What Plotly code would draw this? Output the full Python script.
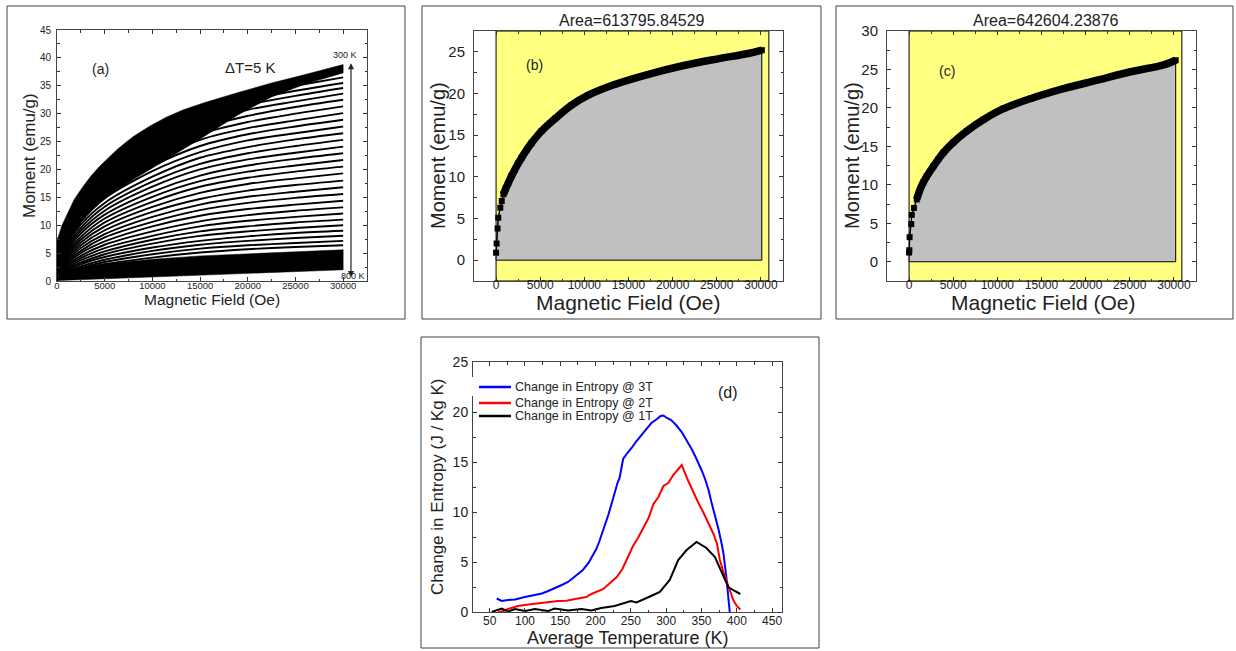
import plotly.graph_objects as go

W, H = 1236, 651
FONT = "Liberation Sans, Arial, sans-serif"
INK = "#222222"

# ---------------- Panel (a): M(H) isotherms 300 K ... 800 K ----------------
a_env_field = [0, 150, 500, 1000, 1800, 2750, 3600, 4500, 5400, 6250, 7100, 8000, 9750, 11500, 13250,
               15500, 19000, 22500, 26000, 30000]
a_env_upper = [7.5, 8.0, 9.9, 11.8, 14.6, 17.0, 18.9, 20.6, 22.1, 23.5, 24.7, 25.9, 27.8, 29.4, 30.7,
               32.0, 33.8, 35.5, 37.0, 38.8]
a_env_lfield = [0, 315, 800, 1364, 2000, 2760, 3600, 4510, 5400, 6260, 8000, 9755, 11500, 13250, 15500,
                19000, 22500, 26000, 30000]
a_env_lower = [0, 1.7, 5.0, 7.6, 9.6, 11.2, 12.8, 14.2, 15.3, 16.3, 18.2, 20.0, 21.8, 23.6, 26.0,
               29.8, 33.0, 35.3, 37.3]

a_curve_field = [300, 1000, 2500, 5000, 10000, 15000, 20000, 25000, 30000]
a_curves = [
    [1.5, 9.5, 15.0, 20.4, 26.6, 31.0, 33.4, 35.0, 36.5],
    [1.5, 9.2, 14.4, 19.8, 25.8, 30.1, 32.4, 34.1, 35.5],
    [1.5, 8.9, 14.0, 19.2, 25.1, 29.3, 31.6, 33.2, 34.6],
    [1.5, 8.5, 13.5, 18.5, 24.3, 28.4, 30.7, 32.2, 33.6],
    [1.4, 8.2, 12.9, 17.8, 23.4, 27.4, 29.6, 31.2, 32.5],
    [1.4, 7.8, 12.3, 17.0, 22.5, 26.3, 28.5, 30.0, 31.3],
    [1.4, 7.4, 11.8, 16.3, 21.5, 25.3, 27.4, 28.8, 30.1],
    [1.3, 7.0, 11.2, 15.5, 20.6, 24.2, 26.3, 27.7, 28.9],
    [1.3, 6.6, 10.6, 14.8, 19.7, 23.1, 25.2, 26.5, 27.7],
    [1.3, 6.3, 10.1, 14.0, 18.7, 22.1, 24.0, 25.4, 26.5],
    [1.2, 5.9, 9.5, 13.3, 17.8, 21.0, 22.9, 24.2, 25.3],
    [1.2, 5.6, 9.0, 12.6, 16.9, 20.0, 21.8, 23.0, 24.1],
    [1.2, 5.2, 8.5, 11.9, 16.0, 18.9, 20.7, 21.9, 22.9],
    [1.1, 4.9, 7.9, 11.2, 15.1, 17.9, 19.6, 20.7, 21.7],
    [1.1, 4.6, 7.4, 10.5, 14.2, 16.9, 18.5, 19.6, 20.5],
    [1.0, 4.2, 6.9, 9.8, 13.3, 15.8, 17.4, 18.4, 19.3],
    [1.0, 3.9, 6.4, 9.1, 12.4, 14.7, 16.2, 17.2, 18.0],
    [1.0, 3.6, 5.9, 8.4, 11.5, 13.7, 15.1, 16.0, 16.8],
    [0.9, 3.3, 5.4, 7.8, 10.6, 12.7, 14.0, 14.9, 15.6],
    [0.9, 3.0, 5.0, 7.1, 9.8, 11.7, 12.9, 13.7, 14.4],
    [0.9, 2.7, 4.5, 6.5, 8.9, 10.7, 11.8, 12.6, 13.2],
    [0.8, 2.5, 4.1, 5.9, 8.1, 9.8, 10.8, 11.5, 12.1],
    [0.8, 2.2, 3.7, 5.3, 7.4, 8.9, 9.8, 10.5, 11.0],
    [0.8, 2.0, 3.3, 4.8, 6.7, 8.1, 8.9, 9.5, 10.0],
    [0.7, 1.8, 3.0, 4.3, 6.0, 7.2, 8.0, 8.6, 9.0],
    [0.7, 1.6, 2.6, 3.8, 5.4, 6.5, 7.2, 7.7, 8.1],
    [0.6, 1.4, 2.3, 3.4, 4.8, 5.8, 6.4, 6.8, 7.2],
    [0.6, 1.2, 2.0, 3.0, 4.2, 5.1, 5.7, 6.1, 6.4],
]
a_bot_field = [0, 300, 1000, 2500, 5000, 7500, 10000, 15000, 20000, 25000, 30000]
a_bot_upper = [0.3, 1.1, 1.6, 2.4, 3.1, 3.5, 3.9, 4.5, 4.9, 5.3, 5.6]
a_bot_lower = [0.0, 0.1, 0.2, 0.3, 0.5, 0.65, 0.8, 1.1, 1.4, 1.7, 2.0]

# ---------------- Panel (b) ----------------
b_field = [0, 60, 170, 250, 480, 640, 830, 1100, 1400, 1750, 2150, 2500, 2900, 3500, 4050,
           5150, 6700, 8550, 10450, 13500, 17250, 21000, 24800, 28550, 30100]
b_moment = [0.9, 2.0, 3.8, 5.1, 6.3, 7.1, 7.9, 8.6, 9.3, 10.1, 10.9, 11.6, 12.3, 13.3, 14.1,
            15.5, 17.0, 18.6, 19.8, 21.1, 22.3, 23.3, 24.1, 24.8, 25.2]
b_title = "Area=613795.84529"

# ---------------- Panel (c) ----------------
c_field = [0, 30, 60, 250, 300, 550, 870, 1250, 1600, 2000, 2750, 3300, 3900, 5000, 6550,
           8450, 10700, 13750, 17500, 21300, 25100, 28850, 30200]
c_moment = [1.2, 1.5, 3.2, 4.9, 6.1, 7.0, 8.1, 9.4, 10.3, 11.1, 12.4, 13.3, 14.2, 15.5, 17.0,
            18.5, 19.9, 21.2, 22.5, 23.6, 24.7, 25.6, 26.2]
c_title = "Area=642604.23876"

# ---------------- Panel (d) ----------------
d_T_3T = [60, 67, 76, 86, 100, 112, 124, 133, 142, 152, 161, 168, 175, 182, 190, 196, 201, 205, 209,
          214, 218, 223, 227, 231, 234, 237, 239, 245, 251, 258, 265, 272, 279, 287, 292, 296, 301,
          307, 314, 322, 329, 336, 341, 345, 350, 355, 360, 364, 369, 374, 378, 381, 385, 388, 390]
d_S_3T = [1.35, 1.1, 1.2, 1.25, 1.5, 1.65, 1.85, 2.1, 2.35, 2.7, 3.0, 3.4, 3.75, 4.2, 4.9, 5.6, 6.3,
          7.0, 7.8, 8.8, 9.7, 10.9, 12.0, 12.9, 13.4, 14.5, 15.3, 15.9, 16.4, 17.1, 17.7, 18.3, 18.9,
          19.3, 19.6, 19.65, 19.4, 19.2, 18.7, 18.0, 17.2, 16.3, 15.6, 15.0, 14.2, 13.3, 12.2, 11.0,
          9.7, 8.3, 7.0, 5.9, 3.6, 1.8, 0.0]
d_T_2T = [62, 70, 76, 90, 105, 119, 135, 147, 159, 171, 180, 187, 194, 202, 211, 222, 230, 238, 246,
          253, 260, 268, 275, 282, 289, 296, 303, 310, 316, 322, 330, 338, 345, 353, 360, 367, 372,
          376, 381, 386, 391, 395, 400, 405]
d_S_2T = [0.0, 0.1, 0.3, 0.6, 0.75, 0.9, 1.0, 1.1, 1.13, 1.3, 1.4, 1.5, 1.8, 2.0, 2.3, 3.0, 3.5, 4.3,
          5.6, 6.6, 7.4, 8.5, 9.4, 10.8, 11.5, 12.6, 12.9, 13.7, 14.2, 14.7, 13.3, 12.0, 11.0, 9.9,
          8.8, 7.8, 6.8, 5.2, 4.0, 2.9, 2.0, 1.2, 0.6, 0.25]
d_T_1T = [53, 60, 67, 76, 86, 100, 114, 133, 142, 161, 180, 194, 208, 227, 241, 250, 258, 268, 277,
          291, 305, 317, 329, 343, 357, 369, 381, 388, 397, 405]
d_S_1T = [0.0, 0.15, 0.35, 0.05, 0.3, 0.1, 0.3, 0.1, 0.35, 0.15, 0.3, 0.15, 0.4, 0.6, 0.9, 1.1, 0.95,
          1.3, 1.55, 2.0, 3.2, 5.2, 6.2, 7.0, 6.4, 5.5, 3.5, 2.5, 2.1, 1.8]
d_legend = ["Change in Entropy @ 3T", "Change in Entropy @ 2T", "Change in Entropy @ 1T"]
d_colors = ["#0000FF", "#FF0000", "#000000"]


def px(x):
    return x / W


def py(y):
    return 1 - y / H


fig = go.Figure()

# ---- panel (a) traces
fig.add_trace(go.Scatter(x=a_env_field + a_env_lfield[::-1], y=a_env_upper + a_env_lower[::-1],
                         fill="toself", fillcolor="black", mode="lines",
                         line=dict(width=0.5, color="black"),
                         xaxis="x", yaxis="y", hoverinfo="skip"))
for row in a_curves:
    fig.add_trace(go.Scatter(x=a_curve_field, y=row, mode="lines",
                             line=dict(color="black", width=1.9, shape="spline", smoothing=0.8),
                             xaxis="x", yaxis="y", hoverinfo="skip"))
fig.add_trace(go.Scatter(x=a_bot_field + a_bot_field[::-1], y=a_bot_upper + a_bot_lower[::-1],
                         fill="toself", fillcolor="black", mode="lines",
                         line=dict(width=0.5, color="black"),
                         xaxis="x", yaxis="y", hoverinfo="skip"))


def area_panel(field, moment, xa, ya):
    fig.add_trace(go.Scatter(x=[0] + field + [field[-1], 0], y=[0] + moment + [0, 0],
                             fill="toself", fillcolor="#C0C0C0", mode="lines",
                             line=dict(color="black", width=1), xaxis=xa, yaxis=ya, hoverinfo="skip"))
    fig.add_trace(go.Scatter(x=field, y=moment, mode="lines+markers",
                             line=dict(color="black", width=1.2),
                             marker=dict(symbol="square", size=6, color="black"),
                             xaxis=xa, yaxis=ya, hoverinfo="skip"))
    k = next(i for i, m in enumerate(moment) if m >= 7.8)
    fig.add_trace(go.Scatter(x=field[k:], y=moment[k:], mode="lines",
                             line=dict(color="black", width=7.5, shape="spline"),
                             xaxis=xa, yaxis=ya, hoverinfo="skip"))


area_panel(b_field, b_moment, "x2", "y2")
area_panel(c_field, c_moment, "x3", "y3")

for T, S, col in zip([d_T_3T, d_T_2T, d_T_1T], [d_S_3T, d_S_2T, d_S_1T], d_colors):
    fig.add_trace(go.Scatter(x=T, y=S, mode="lines", line=dict(color=col, width=2),
                             xaxis="x4", yaxis="y4", hoverinfo="skip"))


def axis(dom, rng, dtick, mdtick, fsize, standoff=0, fmt=None):
    d = dict(domain=dom, range=rng, dtick=dtick, tick0=0, ticks="inside", ticklen=4, tickwidth=1,
             tickcolor="#333", showline=True, linecolor="#444", linewidth=1, mirror="ticks",
             showgrid=False, zeroline=False, fixedrange=True, automargin=False,
             ticklabelstandoff=standoff,
             minor=dict(dtick=mdtick, ticks="inside", ticklen=2.5, tickcolor="#333", showgrid=False),
             tickfont=dict(family=FONT, size=fsize, color=INK))
    if fmt:
        d["tickformat"] = fmt
    return d


fig.update_layout(
    width=W, height=H, margin=dict(l=0, r=0, t=0, b=0, pad=0, autoexpand=False), autosize=False,
    paper_bgcolor="white", plot_bgcolor="white", showlegend=False,
    xaxis=dict(axis([px(57), px(367)], [0, 32500], 5000, 2500, 9.5, -4, "d"), anchor="y"),
    yaxis=dict(axis([py(281), py(30)], [0, 45], 5, 2.5, 10, 3), anchor="x"),
    xaxis2=dict(axis([px(474), px(783)], [-2500, 32500], 5000, 2500, 12, -7, "d"), anchor="y2"),
    yaxis2=dict(axis([py(281), py(31)], [-2.5, 27.5], 5, 2.5, 15, 5), anchor="x2"),
    xaxis3=dict(axis([px(887), px(1196)], [-2500, 32500], 5000, 2500, 12, -7, "d"), anchor="y3"),
    yaxis3=dict(axis([py(281), py(31)], [-2.5, 30], 5, 2.5, 15, 5), anchor="x3"),
    xaxis4=dict(axis([px(473), px(782)], [26.4, 464], 50, 25, 12, -2), anchor="y4"),
    yaxis4=dict(axis([py(612), py(362)], [0, 25], 5, 2.5, 14, 1), anchor="x4"),
)

shapes = []
# panel frames
for x0, y0, x1, y1 in [(7, 6, 405, 319), (422, 6, 821, 319), (836, 6, 1233, 319), (421, 337, 819, 648)]:
    shapes.append(dict(type="rect", xref="paper", yref="paper", x0=px(x0), x1=px(x1), y0=py(y1), y1=py(y0),
                       line=dict(color="#404040", width=1)))
# yellow integration windows
for xr, yr in [("x2", "y2 domain"), ("x3", "y3 domain")]:
    shapes.append(dict(type="rect", xref=xr, yref=yr, x0=0, x1=30900, y0=0, y1=1, layer="below",
                       fillcolor="#FFFF80", line=dict(color="black", width=1)))
# legend of panel (d)
for yy, col in zip([387, 403, 416], d_colors):
    shapes.append(dict(type="line", xref="paper", yref="paper", x0=px(479), x1=px(511), y0=py(yy), y1=py(yy),
                       line=dict(color=col, width=2.5)))
shapes.append(dict(type="rect", xref="paper", yref="paper", x0=px(471), x1=px(476), y0=py(396), y1=py(377),
                   fillcolor="white", line=dict(width=0)))
fig.update_layout(shapes=shapes)


def txt(x, y, s, size, angle=0, anchor="center", color=INK):
    return dict(x=px(x), y=py(y), xref="paper", yref="paper", text=s, showarrow=False, textangle=angle,
                xanchor=anchor, yanchor="middle", font=dict(family=FONT, size=size, color=color))


ann = [
    txt(30, 156, "Moment (emu/g)", 17, -90),
    txt(212, 299, "Magnetic Field (Oe)", 15.5),
    txt(100, 69, "(a)", 14),
    txt(250, 67, "ΔT=5 K", 15),
    txt(345, 55, "300 K", 9),
    txt(353, 276, "800 K", 9),
    txt(438, 156, "Moment (emu/g)", 20, -90),
    txt(628, 302, "Magnetic Field (Oe)", 21),
    txt(632, 21, b_title, 16),
    txt(534, 65, "(b)", 14),
    txt(852, 156, "Moment (emu/g)", 20, -90),
    txt(1043, 302, "Magnetic Field (Oe)", 21),
    txt(1046, 21, c_title, 16),
    txt(947, 71, "(c)", 14),
    txt(437, 487, "Change in Entropy (J / Kg K)", 17, -90),
    txt(627, 638, "Average Temperature (K)", 18),
    txt(728, 392, "(d)", 16),
]
for yy, lab in zip([387, 403, 416], d_legend):
    ann.append(txt(513, yy, lab, 12.5, anchor="left"))
ann.append(dict(x=30820, y=0.7, ax=30820, ay=39.3, xref="x", yref="y", axref="x", ayref="y", text="",
                showarrow=True, arrowhead=2, arrowside="end+start", arrowsize=1, arrowwidth=1.2,
                arrowcolor=INK))
fig.update_layout(annotations=ann)

fig.write_html("out.html")
